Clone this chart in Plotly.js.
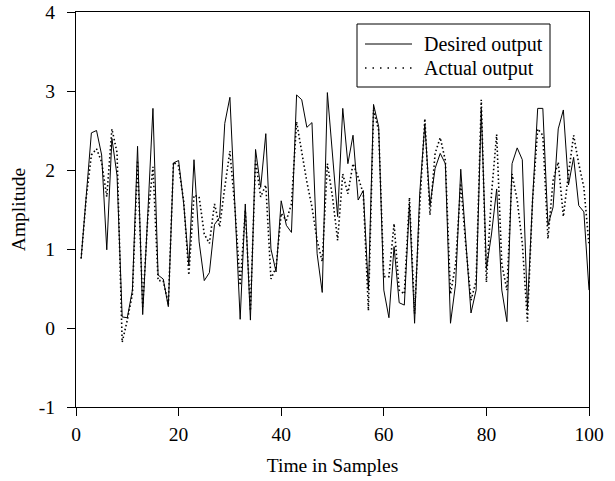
<!DOCTYPE html>
<html><head><meta charset="utf-8">
<script src="https://cdn.plot.ly/plotly-3.0.1.min.js"></script>
<style>html,body{margin:0;padding:0;background:#fff}#chart{width:615px;height:481px}</style>
</head><body><div id="chart"></div>
<script>
const desired = [0.88,1.66,2.47,2.50,2.19,0.99,2.40,1.93,0.14,0.13,
0.48,2.30,0.17,1.45,2.78,0.67,0.62,0.27,2.09,2.12,
1.57,0.79,2.13,1.09,0.60,0.70,1.31,1.40,2.59,2.92,
1.50,0.11,1.57,0.10,2.26,1.78,2.46,1.00,0.71,1.61,
1.30,1.21,2.95,2.89,2.54,2.60,0.94,0.45,2.98,2.19,
1.41,2.78,2.08,2.44,1.62,1.74,0.48,2.83,2.55,0.48,
0.13,1.03,0.32,0.29,1.57,0.06,1.70,2.58,1.55,2.02,
2.21,2.08,0.06,0.56,2.01,1.09,0.19,0.48,2.77,0.75,
1.19,1.76,0.48,0.08,2.08,2.28,2.13,0.24,1.62,2.78,
2.78,1.30,1.53,2.52,2.76,1.81,2.16,1.55,1.47,0.48];
const actual = [0.88,1.65,2.19,2.27,2.10,1.66,2.52,2.22,-0.18,0.10,
0.43,2.12,0.27,1.40,2.04,0.60,0.60,0.30,2.10,2.05,
1.60,0.67,1.68,1.66,1.19,1.07,1.57,1.28,1.78,2.24,
1.50,0.54,1.49,0.22,2.12,1.66,1.81,0.62,0.77,1.45,
1.36,1.57,2.61,2.21,1.85,1.53,1.11,0.84,2.08,1.66,
1.11,1.95,1.70,2.08,1.91,1.70,0.22,2.76,2.50,0.65,
0.65,1.32,0.48,0.43,1.65,0.18,1.53,2.65,1.43,2.21,
2.41,2.12,0.43,0.81,1.83,1.03,0.35,0.60,2.89,0.58,
1.70,2.45,0.81,0.48,1.95,1.62,1.07,0.08,1.62,2.52,
2.44,1.13,1.87,2.10,1.41,1.95,2.44,2.08,1.78,1.05];
const samples = desired.map((_, i) => i + 1);
const xTicks = [0,20,40,60,80,100];
const yTicks = [-1,0,1,2,3,4];
const yTickText = ['-1','0','1','2','3','4'];
const seriesNames = ['Desired output', 'Actual output'];

const font = {family: '"Liberation Serif", "Times New Roman", serif', color: '#000'};
const F = (s) => Object.assign({size: s}, font);
const traces = [
  {x: samples, y: desired, type: 'scatter', mode: 'lines', name: seriesNames[0],
   line: {color: '#000', width: 1}},
  {x: samples, y: actual, type: 'scatter', mode: 'lines', name: seriesNames[1],
   line: {color: '#000', width: 1.6, dash: '1.5px,2.5px'}}
];
const axisBase = {showgrid: false, zeroline: false, showline: true, linecolor: '#000', linewidth: 1,
  mirror: true, ticks: 'outside', ticklen: 8, tickcolor: '#000', tickwidth: 1,
  tickfont: F(19.5)};

// custom legend box (paper coordinates of the plot area: x 76..589, y 12..407)
const PX = (p) => (p - 76) / 513, PY = (p) => (407 - p) / 395;
const shapes = [
  {type: 'rect', xref: 'paper', yref: 'paper', x0: PX(357), x1: PX(550), y0: PY(87), y1: PY(24),
   line: {color: '#000', width: 1}, fillcolor: '#fff', layer: 'above'},
  {type: 'line', xref: 'paper', yref: 'paper', x0: PX(365), x1: PX(412), y0: PY(44), y1: PY(44),
   line: {color: '#000', width: 1}, layer: 'above'},
  {type: 'line', xref: 'paper', yref: 'paper', x0: PX(365), x1: PX(412), y0: PY(68), y1: PY(68),
   line: {color: '#000', width: 1.4, dash: '1.5px,6px'}, layer: 'above'}
];
const annotations = [
  {xref: 'paper', yref: 'paper', x: PX(422), y: PY(44), xanchor: 'left', yanchor: 'middle',
   text: seriesNames[0], showarrow: false, font: F(20)},
  {xref: 'paper', yref: 'paper', x: PX(422), y: PY(68), xanchor: 'left', yanchor: 'middle',
   text: seriesNames[1], showarrow: false, font: F(20)}
];
const layout = {
  width: 615, height: 481,
  margin: {l: 76, r: 26, t: 12, b: 74},
  paper_bgcolor: '#fff', plot_bgcolor: '#fff',
  font: F(19.5),
  showlegend: false,
  shapes: shapes, annotations: annotations,
  xaxis: Object.assign({}, axisBase, {range: [0, 100], tickvals: xTicks, ticklabelstandoff: 2,
    title: {text: 'Time in Samples', font: F(19.5), standoff: 13}}),
  yaxis: Object.assign({}, axisBase, {range: [-1, 4], tickvals: yTicks, ticktext: yTickText,
    ticklabelstandoff: 8,
    title: {text: 'Amplitude', font: F(19.5), standoff: 8}})
};
Plotly.newPlot('chart', traces, layout, {displayModeBar: false, staticPlot: true});
</script></body></html>
